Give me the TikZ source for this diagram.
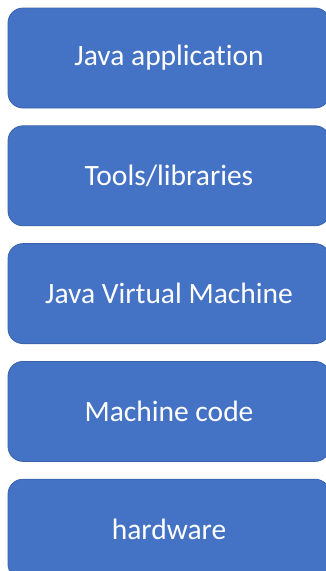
\documentclass[tikz,border=0pt]{standalone}
\usepackage{fontspec}
\setmainfont{Carlito}[Ligatures=NoCommon]
\usetikzlibrary{positioning}
\definecolor{layerblue}{HTML}{4472C4}
\definecolor{layeredge}{HTML}{3A62AC}

\begin{document}
\begin{tikzpicture}[x=1pt, y=1pt, node distance=17pt,
  layer/.style={draw=layeredge, line width=0.8pt, fill=layerblue,
    rounded corners=15pt, minimum width=322pt, minimum height=100pt,
    text=white, font=\fontsize{29.5}{34}\selectfont}]
  \useasboundingbox (0,0) rectangle (326,-571);
  \node[layer] (app) at (169,-58) {Java application};
  \node[layer] (tools) [below=of app] {Tools/libraries};
  \node[layer] (jvm) [below=of tools] {Java Virtual Machine};
  \node[layer] (mcode) [below=of jvm] {Machine code};
  \node[layer] (hw) [below=of mcode] {hardware};
\end{tikzpicture}
\end{document}
